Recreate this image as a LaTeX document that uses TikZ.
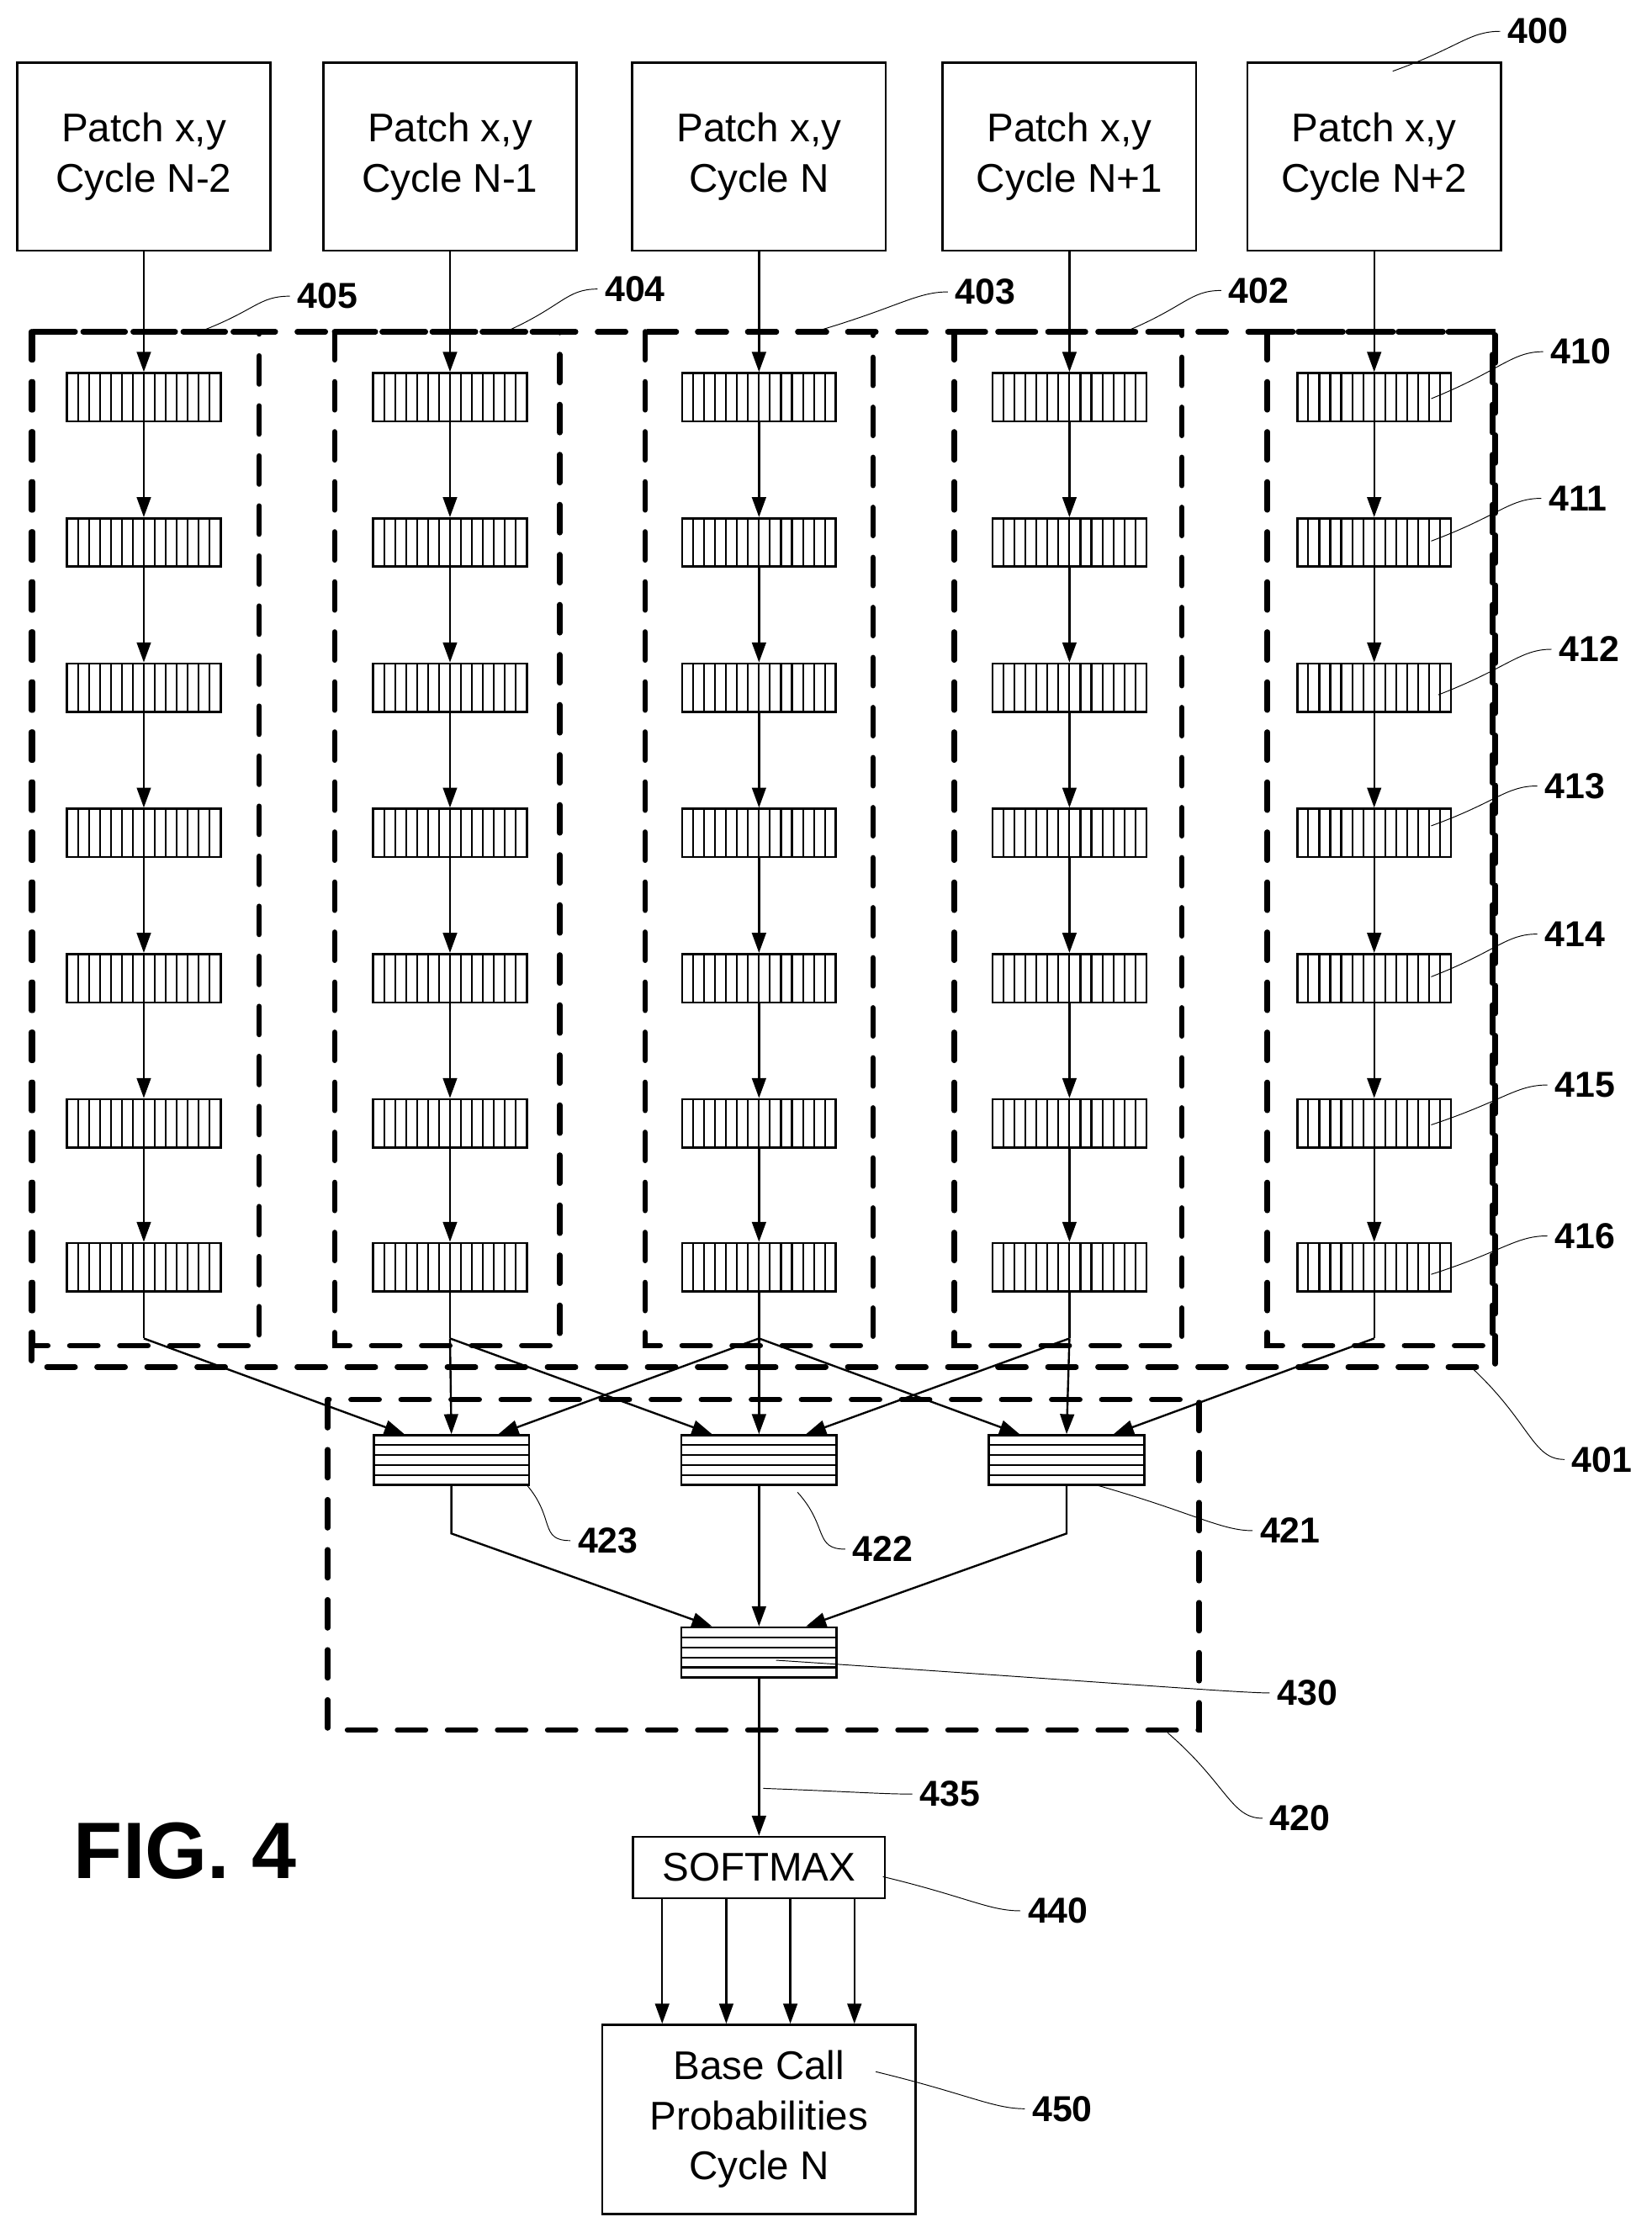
\documentclass[tikz,border=0pt]{standalone}
\usepackage{fontspec}
\setmainfont{Liberation Sans}
\usetikzlibrary{arrows.meta,calc}
\begin{document}
\begin{tikzpicture}[x=0.05cm,y=-0.05cm,
  txt/.style={font=\fontsize{40}{50}\selectfont,align=center},
  top/.style={draw,line width=2.2pt,minimum width=8.9cm,minimum height=6.6cm,txt},
  vblk/.style={draw,line width=2.2pt,minimum width=5.4cm,minimum height=1.7cm,
    path picture={\foreach \i in {1,...,13}{\draw[line width=1.8pt]
      ([xshift=\i*0.3857cm]path picture bounding box.south west)--++(0,1.7cm);}}},
  hblk/.style={draw,line width=2.2pt,minimum width=5.45cm,minimum height=1.75cm,
    path picture={\foreach \i in {1,...,4}{\draw[line width=1.8pt]
      ([yshift=\i*0.35cm]path picture bounding box.south west)--++(5.45cm,0);}}},
  dsh/.style={line width=5.5pt,dash pattern=on 28pt off 22pt,line cap=round},
  arr/.style={line width=2pt,-{Triangle[length=20pt,width=14pt]}},
  ln/.style={line width=2pt},
  lead/.style={line width=0.8pt},
  lab/.style={font=\bfseries\fontsize{36}{40}\selectfont}]
\useasboundingbox (0,0) rectangle (1160,1571.8);
% top boxes
\foreach \n/\x/\t in {a/101/N-2,b/316/N-1,c/533/N,d/751/N+1,e/965/N+2}
  \node[top] (t\n) at (\x,110) {Patch x,y\\Cycle \t};
% dashed boxes
\draw[dsh] (22,233) rectangle (1050,960);
\foreach \l/\r in {23/182,235/393,453/613,670/830,890/1048}
  \draw[dsh] (\l,233) rectangle (\r,945);
\draw[dsh] (230,983) rectangle (842,1215);
% layer blocks
\foreach \n/\x in {a/101,b/316,c/533,d/751,e/965}{
  \foreach \k/\y in {0/279,1/381,2/483,3/585,4/687,5/789,6/890}
    \node[vblk] (\n\k) at (\x,\y) {};
  \draw[arr] (t\n) -- (\n0);
  \foreach \k [evaluate=\k as \j using int(\k+1)] in {0,...,5}
    \draw[arr] (\n\k) -- (\n\j);
  \coordinate (br\n) at (\x,940);
  \draw[ln] (\n6) -- (br\n);
}
% fusion
\node[hblk] (f3) at (317,1025.5) {};
\node[hblk] (f2) at (533,1025.5) {};
\node[hblk] (f1) at (749,1025.5) {};
\node[hblk] (g) at (533,1160.5) {};
\draw[arr] (bra) -- ([xshift=-1.65cm]f3.north);
\draw[arr] (brb) -- (f3.north);
\draw[arr] (brc) -- ([xshift=1.65cm]f3.north);
\draw[arr] (brb) -- ([xshift=-1.65cm]f2.north);
\draw[arr] (brc) -- (f2.north);
\draw[arr] (brd) -- ([xshift=1.65cm]f2.north);
\draw[arr] (brc) -- ([xshift=-1.65cm]f1.north);
\draw[arr] (brd) -- (f1.north);
\draw[arr] (bre) -- ([xshift=1.65cm]f1.north);
\coordinate (k3) at (317,1077); \coordinate (k1) at (749,1077);
\draw[arr] (f3.south) -- (k3) -- ([xshift=-1.65cm]g.north);
\draw[arr] (f2) -- (g);
\draw[arr] (f1.south) -- (k1) -- ([xshift=1.65cm]g.north);
% softmax
\node[draw,line width=2pt,minimum width=8.85cm,minimum height=2.15cm,txt] (sm) at (533,1311.5) {SOFTMAX};
\draw[arr] (g) -- (sm);
\node[draw,line width=2pt,minimum width=11cm,minimum height=6.65cm,txt] (bc) at (533,1488.5) {Base Call\\Probabilities\\Cycle N};
\foreach \x in {465,510,555,600}
  \draw[arr] (sm.south -| \x,0) -- (bc.north -| \x,0);
\node[font=\bfseries\fontsize{80}{80}\selectfont] (fig) at (130,1300) {FIG. 4};
% labels and leaders
\foreach \nm/\lx/\ly/\sx/\sy in {
 400/1080/22/978/50, 405/230/208/140/233, 404/446/203/355/233, 403/692/205/572/233,
 402/884/204/790/233, 410/1110/247/1005/280, 411/1108/350/1005/380, 412/1116/456/1010/488,
 413/1106/552/1005/580, 414/1106/656/1005/686, 415/1113/762/1005/790, 416/1113/868/1005/895,
 401/1125/1025/1035/962, 423/427/1082/370/1043, 422/620/1088/560/1048, 421/906/1075/770/1043,
 430/918/1189/545/1166, 420/913/1277/820/1217, 435/667/1260/536/1256, 440/743/1342/620/1318,
 450/746/1481/615/1455}{
 \node[lab] (L\nm) at (\lx,\ly) {\nm};
 \coordinate (S\nm) at (\sx,\sy);
 \draw[lead] (S\nm) .. controls ($(S\nm)!0.6!(L\nm.west)$) and ($(L\nm.west)+(-25,0)$) .. ([xshift=-4pt]L\nm.west);
}
\end{tikzpicture}
\end{document}
